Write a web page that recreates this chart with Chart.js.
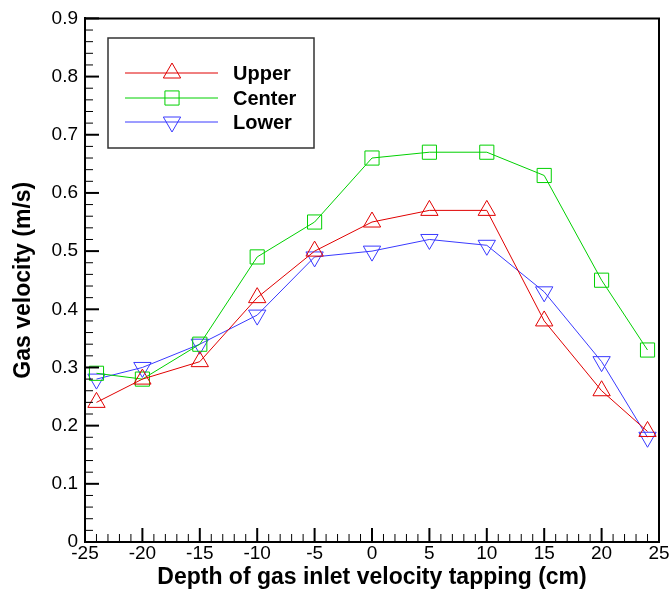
<!DOCTYPE html>
<html>
<head>
<meta charset="utf-8">
<script src="https://cdn.jsdelivr.net/npm/chart.js"></script>
<style>
html, body { margin: 0; padding: 0; background: #fff; }
</style>
</head>
<body>
<canvas id="grafico" width="670" height="592"></canvas>
<script>
const ctx = document.getElementById('grafico');

// dados
const depth = [-24, -20, -15, -10, -5, 0, 5, 10, 15, 20, 24];
const upper = [0.24, 0.28, 0.31, 0.42, 0.50, 0.55, 0.57, 0.57, 0.38, 0.26, 0.19];
const center = [0.29, 0.28, 0.34, 0.49, 0.55, 0.66, 0.67, 0.67, 0.63, 0.45, 0.33];
const lower = [0.28, 0.30, 0.34, 0.39, 0.49, 0.50, 0.52, 0.51, 0.43, 0.31, 0.18];
const seriesNames = ['Upper', 'Center', 'Lower'];
const xTitle = 'Depth of gas inlet velocity tapping (cm)';
const yTitle = 'Gas velocity (m/s)';

const FONT = "'Liberation Sans', Arial, sans-serif";
const cores = ['#e00000', '#00d000', '#3a3aff'];
const estilos = ['triangle', 'rect', 'triangle'];
const rotacoes = [0, 0, 180];

function pontos(ys) {
  return depth.map((x, i) => ({ x: x, y: ys[i] }));
}

// desenha um marcador vazio
function marcador(c, estilo, rot, x, y, r) {
  c.beginPath();
  if (estilo === 'rect') {
    const s = r * Math.SQRT1_2;
    c.rect(x - s, y - s, 2 * s, 2 * s);
  } else {
    const a = rot * Math.PI / 180;
    for (let k = 0; k < 3; k++) {
      const ang = a + k * 2 * Math.PI / 3;
      const px = x + Math.sin(ang) * r;
      const py = y - Math.cos(ang) * r;
      if (k === 0) c.moveTo(px, py); else c.lineTo(px, py);
    }
    c.closePath();
  }
  c.stroke();
}

// moldura, ticks internos e legenda
const moldura = {
  id: 'moldura',
  afterDraw(chart) {
    const c = chart.ctx;
    const a = chart.chartArea;
    const sx = chart.scales.x;
    const sy = chart.scales.y;
    c.save();
    c.strokeStyle = '#000';
    c.lineWidth = 2;
    c.beginPath();
    c.moveTo(a.left, a.top);
    c.lineTo(a.right, a.top);
    c.lineTo(a.right, a.bottom);
    c.stroke();

    for (let v = -25; v <= 25; v++) {
      const px = sx.getPixelForValue(v);
      const maior = v % 5 === 0;
      c.lineWidth = maior ? 2 : 1;
      c.beginPath();
      c.moveTo(px, a.bottom);
      c.lineTo(px, a.bottom - (maior ? 14 : 8));
      c.stroke();
    }
    for (let i = 0; i <= 45; i++) {
      const py = sy.getPixelForValue(i * 0.02);
      const maior = i % 5 === 0;
      c.lineWidth = maior ? 2 : 1;
      c.beginPath();
      c.moveTo(a.left, py);
      c.lineTo(a.left + (maior ? 14 : 8), py);
      c.stroke();
    }

    // legenda
    const bx = 108, by = 38, bw = 206, bh = 110;
    c.fillStyle = '#fff';
    c.fillRect(bx, by, bw, bh);
    c.strokeStyle = '#333';
    c.lineWidth = 1.5;
    c.strokeRect(bx, by, bw, bh);
    const linhas = [73, 98, 122];
    c.font = 'bold 20px ' + FONT;
    c.textBaseline = 'middle';
    c.textAlign = 'left';
    seriesNames.forEach((nome, i) => {
      c.strokeStyle = cores[i];
      c.lineWidth = 1;
      c.beginPath();
      c.moveTo(125, linhas[i]);
      c.lineTo(218, linhas[i]);
      c.stroke();
      marcador(c, estilos[i], rotacoes[i], 172, linhas[i], 10);
      c.fillStyle = '#000';
      c.fillText(nome, 233, linhas[i] + 1);
    });
    c.restore();
  }
};

new Chart(ctx, {
  type: 'line',
  data: {
    datasets: [upper, center, lower].map((ys, i) => ({
      label: seriesNames[i],
      data: pontos(ys),
      borderColor: cores[i],
      backgroundColor: 'rgba(0,0,0,0)',
      borderWidth: 1,
      pointStyle: estilos[i],
      pointRotation: rotacoes[i],
      pointRadius: 10,
      pointBorderWidth: 1,
      pointBorderColor: cores[i],
      pointBackgroundColor: 'rgba(0,0,0,0)',
      tension: 0
    }))
  },
  options: {
    responsive: false,
    animation: false,
    devicePixelRatio: 1,
    layout: { padding: { top: 16, right: 10, left: 0, bottom: 0 } },
    plugins: { legend: { display: false }, tooltip: { enabled: false } },
    scales: {
      x: {
        type: 'linear',
        min: -25,
        max: 25,
        grid: { display: false, drawTicks: false },
        border: { display: true, color: '#000', width: 2 },
        ticks: { stepSize: 5, color: '#000', padding: 0, maxRotation: 0, font: { family: FONT, size: 19 } },
        title: { display: true, text: xTitle, color: '#000', padding: { top: 0, bottom: 1 }, font: { family: FONT, size: 23, weight: 'bold' } },
        afterFit(scale) { scale.height = 50; }
      },
      y: {
        min: 0,
        max: 0.9,
        grid: { display: false, drawTicks: false },
        border: { display: true, color: '#000', width: 2 },
        ticks: { stepSize: 0.1, color: '#000', padding: 7, font: { family: FONT, size: 19 } },
        title: { display: true, text: yTitle, color: '#000', padding: { top: 10, bottom: 0 }, font: { family: FONT, size: 23, weight: 'bold' } },
        afterFit(scale) { scale.width = 85; }
      }
    }
  },
  plugins: [moldura]
});
</script>
</body>
</html>
